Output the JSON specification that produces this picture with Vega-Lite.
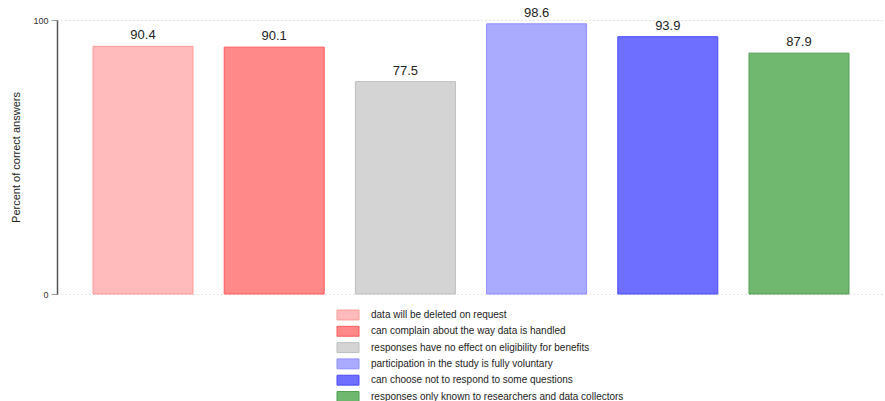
{
  "$schema": "https://vega.github.io/schema/vega-lite/v6.json",
  "autosize": "none",
  "width": 828,
  "height": 274,
  "padding": {"left": 57, "top": 20, "right": 0, "bottom": 107},
  "background": "white",
  "config": {
    "font": "Liberation Sans",
    "view": {"stroke": null}
  },
  "data": {
    "values": [
      {"label": "data will be deleted on request", "value": 90.4},
      {"label": "can complain about the way data is handled", "value": 90.1},
      {"label": "responses have no effect on eligibility for benefits", "value": 77.5},
      {"label": "participation in the study is fully voluntary", "value": 98.6},
      {"label": "can choose not to respond to some questions", "value": 93.9},
      {"label": "responses only known to researchers and data collectors", "value": 87.9}
    ]
  },
  "encoding": {
    "x": {
      "field": "label",
      "type": "nominal",
      "sort": null,
      "scale": {"paddingInner": 0.238, "paddingOuter": 0.2745},
      "axis": null
    },
    "y": {
      "field": "value",
      "type": "quantitative",
      "scale": {"domain": [0, 100], "nice": false, "zero": true},
      "axis": {
        "title": "Percent of correct answers",
        "titleFont": "Liberation Sans",
        "titleFontSize": 11,
        "titleFontWeight": "normal",
        "titleColor": "#222",
        "titleX": -36,
        "titleY": 137,
        "values": [0, 100],
        "labelFontSize": 9,
        "labelColor": "#333",
        "labelPadding": 3,
        "tickSize": 6,
        "tickColor": "#999",
        "domainColor": "#555",
        "domainWidth": 1.5,
        "grid": true,
        "gridColor": "#c8c8c8",
        "gridDash": [1, 3],
        "gridWidth": 1
      }
    }
  },
  "layer": [
    {
      "mark": {"type": "bar", "strokeWidth": 1},
      "encoding": {
        "fill": {
          "field": "label",
          "type": "nominal",
          "scale": {
            "domain": [
              "data will be deleted on request",
              "can complain about the way data is handled",
              "responses have no effect on eligibility for benefits",
              "participation in the study is fully voluntary",
              "can choose not to respond to some questions",
              "responses only known to researchers and data collectors"
            ],
            "range": ["#ffbbbb", "#ff8888", "#d4d4d4", "#aaaaff", "#6e6eff", "#70b870"]
          },
          "legend": {
            "title": null,
            "orient": "none",
            "legendX": 285,
            "legendY": 289,
            "direction": "vertical",
            "symbolType": "M-2,-0.9H2V0.9H-2Z",
            "symbolSize": 121,
            "symbolStrokeWidth": 1,
            "labelFontSize": 10,
            "labelColor": "#222",
            "labelOffset": 17,
            "rowPadding": 2.3,
            "labelLimit": 400
          }
        },
        "stroke": {
          "field": "label",
          "type": "nominal",
          "scale": {
            "domain": [
              "data will be deleted on request",
              "can complain about the way data is handled",
              "responses have no effect on eligibility for benefits",
              "participation in the study is fully voluntary",
              "can choose not to respond to some questions",
              "responses only known to researchers and data collectors"
            ],
            "range": ["#ff9a9a", "#ff5a5a", "#bdbdbd", "#8e8eff", "#4a4aff", "#4e9e4e"]
          },
          "legend": {
            "title": null,
            "orient": "none",
            "legendX": 285,
            "legendY": 289,
            "direction": "vertical",
            "symbolType": "M-2,-0.9H2V0.9H-2Z",
            "symbolSize": 121,
            "symbolStrokeWidth": 1,
            "labelFontSize": 10,
            "labelColor": "#222",
            "labelOffset": 17,
            "rowPadding": 2.3,
            "labelLimit": 400
          }
        }
      }
    },
    {
      "mark": {"type": "text", "baseline": "alphabetic", "dy": -7, "fontSize": 13, "color": "#222"},
      "encoding": {
        "text": {"field": "value", "type": "quantitative", "format": ".1f"}
      }
    }
  ]
}
